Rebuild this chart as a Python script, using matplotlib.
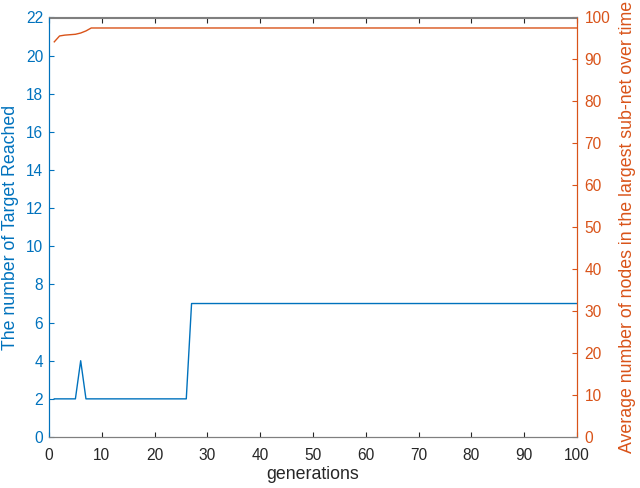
import numpy as np
import matplotlib.pyplot as plt

plt.rcParams['font.family'] = ['Liberation Sans', 'DejaVu Sans']

blue = '#0072BD'
orange = '#D95319'
gray = '#262626'

# generations 1..100
generations = list(range(1, 101))

# number of targets reached
targets = [2, 2, 2, 2, 2, 4] + [2] * 20 + [7] * 74

# average nodes in largest sub-net
avg_nodes = [94.2, 95.6, 95.8, 95.9, 96.0, 96.3, 96.8, 97.5] + [97.5] * 92

fig = plt.figure(figsize=(6.4, 4.88), dpi=100)
ax1 = fig.add_axes([49 / 640, 51 / 488, 528 / 640, 419.5 / 488])
ax2 = ax1.twinx()

ax1.plot(generations, targets, color=blue, lw=1.0)
ax2.plot(generations, avg_nodes, color=orange, lw=1.0)

ax1.set_xlim(0, 100)
ax1.set_ylim(0, 22)
ax2.set_ylim(0, 100)
ax1.set_xticks(range(0, 101, 10))
ax1.set_yticks(range(0, 23, 2))
ax2.set_yticks(range(0, 101, 10))

ax1.set_xlabel('generations', fontsize=12.8, color=gray, labelpad=2)
ax1.set_ylabel('The number of Target Reached', fontsize=12.8, color=blue, labelpad=5)
ax2.set_ylabel('Average number of nodes in the largest sub-net over time', fontsize=12.8,
               color=orange, labelpad=6)

ax1.tick_params(axis='x', direction='in', top=True, colors=gray, labelsize=11.2, length=3.6, pad=8)
ax1.tick_params(axis='y', direction='in', colors=blue, labelsize=11.2, length=3.6, pad=4.3)
ax2.tick_params(axis='y', direction='in', colors=orange, labelsize=11.2, length=3.6, pad=5.5)

for ax in (ax1, ax2):
    ax.spines['top'].set_color('#7f7f7f')
    ax.spines['bottom'].set_color('#7f7f7f')
    ax.spines['left'].set_color(blue)
    ax.spines['right'].set_color(orange)
    for s in ax.spines.values():
        s.set_linewidth(0.8)

plt.savefig('out.png', dpi=100)
